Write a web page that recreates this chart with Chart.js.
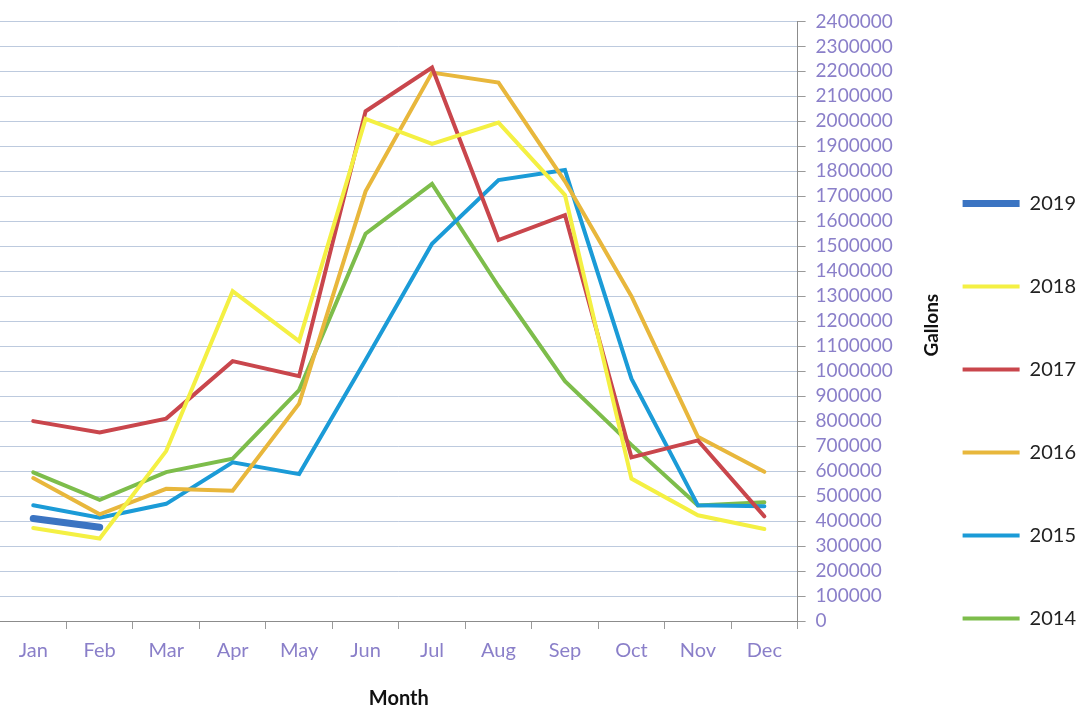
<!DOCTYPE html>
<html>
<head>
<meta charset="utf-8">
<script src="https://cdn.jsdelivr.net/npm/chart.js@4/dist/chart.umd.min.js"></script>
<style>
  html, body { margin: 0; padding: 0; background: #fff; }
  #wrap { width: 1086px; height: 715px; }
</style>
</head>
<body>
<div id="wrap"><canvas id="gallons_chart" width="1086" height="715"></canvas></div>
<script>
// monthly gallons
var months = ['Jan', 'Feb', 'Mar', 'Apr', 'May', 'Jun', 'Jul', 'Aug', 'Sep', 'Oct', 'Nov', 'Dec'];
var years = ['2019', '2018', '2017', '2016', '2015', '2014'];

var gal2019 = [410000, 375000, null, null, null, null, null, null, null, null, null, null];
var gal2018 = [372000, 330000, 680000, 1320000, 1120000, 2010000, 1910000, 1995000, 1705000, 570000, 423000, 368000];
var gal2017 = [800000, 755000, 810000, 1040000, 980000, 2040000, 2215000, 1525000, 1625000, 655000, 723000, 419000];
var gal2016 = [572000, 427000, 529000, 521000, 870000, 1720000, 2195000, 2155000, 1760000, 1300000, 737000, 597000];
var gal2015 = [463000, 413000, 469000, 635000, 588000, 1045000, 1510000, 1765000, 1805000, 970000, 463000, 459000];
var gal2014 = [595000, 485000, 596000, 650000, 924000, 1550000, 1750000, 1340000, 960000, 705000, 462000, 475000];

var yMin = 0;
var yMax = 2400000;
var yStep = 100000;

const tickPurple = '#8a7fc9';

function line(label, data, color, width) {
    return {
        label: label,
        data: data,
        borderColor: color,
        backgroundColor: color,
        borderWidth: width,
        pointRadius: 0,
        pointHoverRadius: 0,
        tension: 0,
        fill: false,
        borderCapStyle: 'round',
        borderJoinStyle: 'miter'
    };
}

const dt = {
    labels: months,
    datasets: [
        line(years[0], gal2019, '#3b74c2', 7),
        line(years[1], gal2018, '#f4f043', 4),
        line(years[2], gal2017, '#c9464c', 4),
        line(years[3], gal2016, '#e8b73c', 4),
        line(years[4], gal2015, '#1b9bd7', 4),
        line(years[5], gal2014, '#7dbd4b', 4)
    ]
};

// y axis title reads bottom-to-top even though the axis sits on the right
const gallonsTitle = {
    id: 'gallonsTitle',
    afterDraw(chart) {
        const ctx = chart.ctx;
        const area = chart.chartArea;
        ctx.save();
        ctx.translate(932, (area.top + area.bottom) / 2 + 4);
        ctx.rotate(-Math.PI / 2);
        ctx.font = 'bold 19px Lato';
        ctx.fillStyle = '#111';
        ctx.textAlign = 'center';
        ctx.textBaseline = 'middle';
        ctx.fillText('Gallons', 0, 0);
        ctx.restore();
    }
};

const config_gallons = {
    type: 'line',
    data: dt,
    plugins: [gallonsTitle],
    options: {
        responsive: false,
        animation: false,
        layout: { padding: { top: 5, right: 0, left: 0, bottom: 0 } },
        plugins: {
            tooltip: { enabled: false },
            legend: {
                position: 'right',
                align: 'center',
                title: { display: true, text: ' ', font: { size: 4 }, padding: { top: 49, bottom: 48 } },
                labels: {
                    usePointStyle: true,
                    pointStyle: 'line',
                    pointStyleWidth: 57,
                    padding: 63,
                    color: '#222',
                    font: { family: 'Lato', size: 20 }
                }
            }
        },
        scales: {
            x: {
                type: 'category',
                offset: true,
                grid: { display: true, drawOnChartArea: false, drawTicks: true, tickLength: 8, offset: true, color: '#9a9a9a' },
                border: { display: true, color: '#8c8c8c', width: 1 },
                ticks: { color: tickPurple, font: { family: 'Lato', size: 20 }, maxRotation: 0, padding: 10 },
                title: { display: true, text: 'Month', color: '#111', font: { family: 'Lato', size: 20, weight: 'bold' }, padding: { top: 14, bottom: 4 } }
            },
            y: {
                position: 'right',
                min: yMin,
                max: yMax,
                grid: { color: 'rgba(135,158,195,0.55)', lineWidth: 1, tickColor: '#9a9a9a', tickLength: 8 },
                border: { display: true, color: '#8c8c8c', width: 1 },
                ticks: {
                    stepSize: yStep,
                    maxTicksLimit: 40,
                    autoSkip: false,
                    color: tickPurple,
                    padding: 10,
                    font: { family: 'Lato', size: 19 },
                    callback: function(v) { return String(v); }
                },
                afterFit: function(scale) { scale.width = 102; }
            }
        }
    }
};

const gallons_chart = new Chart(
    document.getElementById('gallons_chart'),
    config_gallons
);
</script>
</body>
</html>
